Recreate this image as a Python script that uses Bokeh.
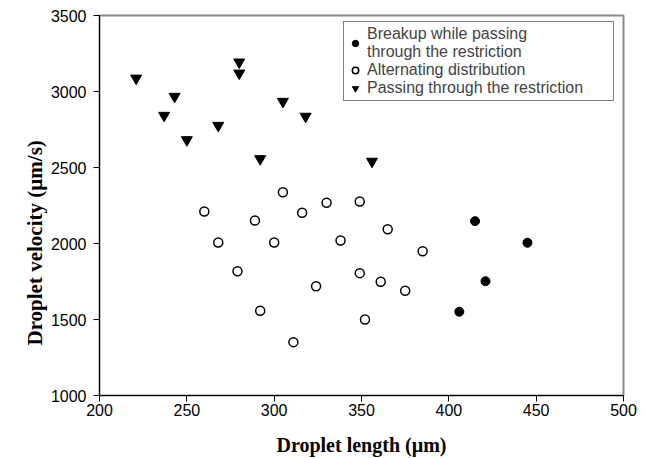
from bokeh.plotting import figure
from bokeh.models import Range1d, FixedTicker, Legend, LegendItem, Title
from bokeh.embed import file_html
from bokeh.resources import INLINE

# Breakup while passing through the restriction
breakup_len = [406, 415, 421, 445]
breakup_vel = [1551, 2147, 1752, 2005]

# Alternating distribution
alt_len = [260, 268, 279, 289, 292, 300, 305, 311, 316, 324, 330, 338, 349, 349, 352, 361, 365, 375, 385]
alt_vel = [2210, 2007, 1818, 2151, 1557, 2007, 2337, 1351, 2202, 1719, 2268, 2020, 2276, 1805, 1500, 1748, 2094, 1689, 1949]

# Passing through the restriction
pass_len = [221, 237, 243, 250, 268, 280, 280, 292, 305, 318, 356]
pass_vel = [3087, 2842, 2967, 2682, 2776, 3193, 3120, 2557, 2934, 2836, 2540]

x_ticks = [200, 250, 300, 350, 400, 450, 500]
y_ticks = [1000, 1500, 2000, 2500, 3000, 3500]

p = figure(width=646, height=458, output_backend="svg", toolbar_location=None,
           x_range=Range1d(200, 500), y_range=Range1d(1000, 3500),
           min_border_left=99, min_border_right=23, min_border_top=15, min_border_bottom=63)
p.grid.visible = False
p.outline_line_color = "#8a8a8a"
p.outline_line_width = 2
p.background_fill_color = "white"
p.border_fill_color = "white"

for ax in (p.xaxis[0], p.yaxis[0]):
    ax.axis_line_color = "black"
    ax.axis_line_width = 1
    ax.major_tick_line_color = "black"
    ax.major_tick_out = 6
    ax.major_tick_in = 0
    ax.minor_tick_line_color = None
    ax.major_label_text_font = "Liberation Sans"
    ax.major_label_text_font_size = "16px"
    ax.major_label_text_color = "black"
    ax.axis_label_text_font = "Liberation Serif"
    ax.axis_label_text_font_style = "bold"
    ax.axis_label_text_font_size = "20px"
    ax.axis_label_text_color = "black"

p.xaxis.ticker = FixedTicker(ticks=x_ticks)
p.yaxis.ticker = FixedTicker(ticks=y_ticks)
p.xaxis.axis_label = "Droplet length (\u00b5m)"
p.xaxis.major_label_standoff = 2
p.yaxis.major_label_standoff = 7
p.xaxis.axis_label_standoff = 15

ytitle = Title(text="Droplet velocity (\u00b5m/s)", align="left", offset=50,
               text_font="Liberation Serif", text_font_style="bold",
               text_font_size="21px", text_color="black", standoff=2)
p.add_layout(ytitle, "left")

r1 = p.scatter(breakup_len, breakup_vel, marker="circle", size=9,
               fill_color="black", line_color="black")
r2 = p.scatter(alt_len, alt_vel, marker="circle", size=9,
               fill_color="white", line_color="black", line_width=1.5)
r3 = p.scatter(pass_len, pass_vel, marker="inverted_triangle", size=11,
               fill_color="black", line_color="black")

legend = Legend(items=[
    LegendItem(label="Breakup while passing\nthrough the restriction", renderers=[r1]),
    LegendItem(label="Alternating distribution", renderers=[r2]),
    LegendItem(label="Passing through the restriction", renderers=[r3]),
], location=(244, 294))
legend.label_text_font = "Liberation Sans"
legend.label_text_font_size = "16px"
legend.label_text_line_height = 0.85
legend.label_height = 10
legend.label_width = 243
legend.glyph_height = 16
legend.glyph_width = 16
legend.label_standoff = 4
legend.spacing = 0
legend.padding = 3
legend.margin = 0
legend.border_line_color = "black"
legend.border_line_width = 1.5
legend.background_fill_alpha = 1
p.add_layout(legend, "center")

open("out.html", "w").write(file_html(p, INLINE))
